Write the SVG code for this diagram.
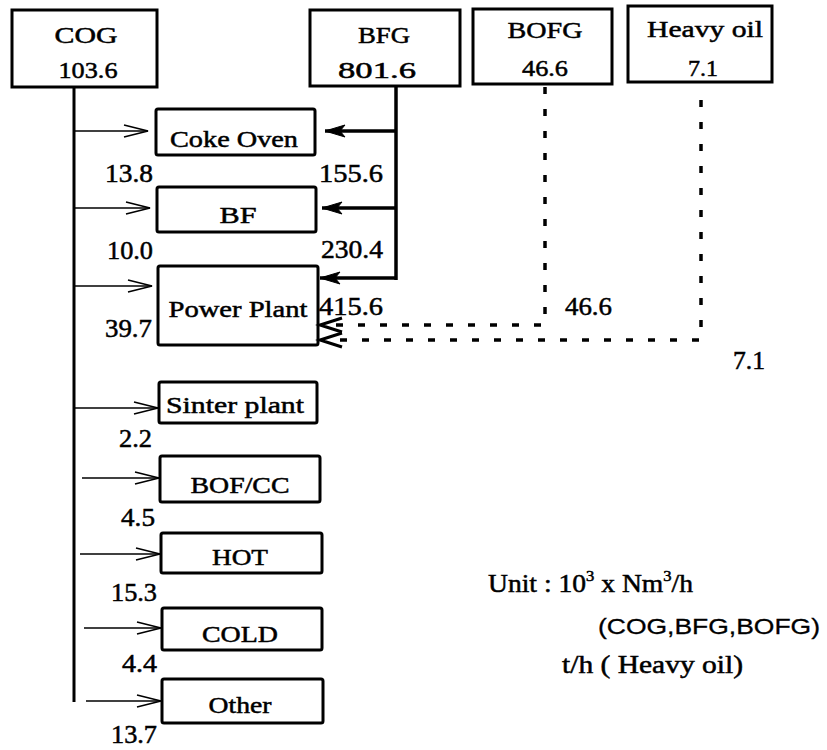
<svg xmlns="http://www.w3.org/2000/svg" width="827" height="750" viewBox="0 0 827 750">
<style>
  .box { fill: #fff; stroke: #000; stroke-width: 3; }
  .t { font-family: "Liberation Serif", "Times New Roman", serif; font-size: 24px; fill: #000; stroke: #000; stroke-width: 0.5; }
  .v { font-family: "Liberation Serif", "Times New Roman", serif; font-size: 25px; fill: #000; stroke: #000; stroke-width: 0.5; }
  .s { font-family: "Liberation Sans", Arial, sans-serif; font-size: 22px; fill: #000; stroke: #000; stroke-width: 0.3; }
  .thin { stroke: #000; stroke-width: 1.6; fill: none; }
  .trunk { stroke: #000; stroke-width: 3; fill: none; }
  .heavy { stroke: #000; stroke-width: 3.5; fill: none; }
  .dot { stroke: #000; stroke-width: 3.5; fill: none; stroke-dasharray: 7 15; }
</style>
<defs>
  <marker id="open" markerUnits="userSpaceOnUse" markerWidth="30" markerHeight="16" refX="26" refY="8" orient="auto">
    <path d="M2,2 L26,8 L2,14" fill="none" stroke="#000" stroke-width="1.6"/>
  </marker>
  <marker id="filled" markerUnits="userSpaceOnUse" markerWidth="24" markerHeight="16" refX="22" refY="8" orient="auto">
    <path d="M2,2 L22,8 L2,14 L7,8 Z" fill="#000" stroke="#000" stroke-width="1"/>
  </marker>
</defs>

<!-- Source nodes -->
<g id="cog">
  <rect class="box" x="12" y="10" width="145" height="77"/>
  <text class="t" x="86" y="43" text-anchor="middle" font-size="25" textLength="63" lengthAdjust="spacingAndGlyphs">COG</text>
  <text class="t" x="88" y="78" text-anchor="middle" font-size="25" textLength="59" lengthAdjust="spacingAndGlyphs">103.6</text>
</g>
<g id="bfg">
  <rect class="box" x="310" y="10" width="150" height="76"/>
  <text class="t" x="384" y="43" text-anchor="middle" font-size="25" textLength="52" lengthAdjust="spacingAndGlyphs">BFG</text>
  <text class="t" x="377" y="78" text-anchor="middle" font-size="25" textLength="78" lengthAdjust="spacingAndGlyphs">801.6</text>
</g>
<g id="bofg">
  <rect class="box" x="473" y="9" width="139" height="75"/>
  <text class="t" x="545" y="38" text-anchor="middle" font-size="25" textLength="75" lengthAdjust="spacingAndGlyphs">BOFG</text>
  <text class="t" x="545" y="76" text-anchor="middle" font-size="25" textLength="46" lengthAdjust="spacingAndGlyphs">46.6</text>
</g>
<g id="heavy-oil">
  <rect class="box" x="628" y="6" width="144" height="76"/>
  <text class="t" x="705" y="37" text-anchor="middle" font-size="25" textLength="116" lengthAdjust="spacingAndGlyphs">Heavy oil</text>
  <text class="t" x="703" y="76" text-anchor="middle" font-size="25" textLength="30" lengthAdjust="spacingAndGlyphs">7.1</text>
</g>

<!-- Consumer nodes -->
<g id="coke-oven">
  <rect class="box" x="156" y="109" width="159" height="46" rx="2"/>
  <text class="t" x="234" y="147" text-anchor="middle" textLength="128" lengthAdjust="spacingAndGlyphs">Coke Oven</text>
</g>
<g id="bf">
  <rect class="box" x="157" y="187" width="159" height="45" rx="2"/>
  <text class="t" x="238" y="223" text-anchor="middle" textLength="37" lengthAdjust="spacingAndGlyphs">BF</text>
</g>
<g id="power-plant">
  <rect class="box" x="158" y="266" width="160" height="79" rx="2"/>
  <text class="t" x="238" y="317" text-anchor="middle" textLength="139" lengthAdjust="spacingAndGlyphs">Power Plant</text>
</g>
<g id="sinter-plant">
  <rect class="box" x="159" y="382" width="158" height="41" rx="2"/>
  <text class="t" x="235" y="413" text-anchor="middle" textLength="138" lengthAdjust="spacingAndGlyphs">Sinter plant</text>
</g>
<g id="bof-cc">
  <rect class="box" x="160" y="456" width="160" height="46" rx="2"/>
  <text class="t" x="240" y="493" text-anchor="middle" textLength="99" lengthAdjust="spacingAndGlyphs">BOF/CC</text>
</g>
<g id="hot">
  <rect class="box" x="161" y="533" width="161" height="40" rx="2"/>
  <text class="t" x="240" y="565" text-anchor="middle" textLength="56" lengthAdjust="spacingAndGlyphs">HOT</text>
</g>
<g id="cold">
  <rect class="box" x="162" y="608" width="160" height="42" rx="2"/>
  <text class="t" x="240" y="642" text-anchor="middle" textLength="76" lengthAdjust="spacingAndGlyphs">COLD</text>
</g>
<g id="other">
  <rect class="box" x="162" y="679" width="161" height="44" rx="2"/>
  <text class="t" x="240" y="713" text-anchor="middle" textLength="63" lengthAdjust="spacingAndGlyphs">Other</text>
</g>

<!-- Connectors -->
<g id="connectors">
  <!-- COG trunk and branches -->
  <line class="trunk" x1="74" y1="87" x2="74" y2="702"/>
  <line class="thin" x1="74" y1="131" x2="148" y2="131" marker-end="url(#open)"/>
  <line class="thin" x1="74" y1="208" x2="150" y2="208" marker-end="url(#open)"/>
  <line class="thin" x1="74" y1="286" x2="152" y2="286" marker-end="url(#open)"/>
  <line class="thin" x1="74" y1="408" x2="158" y2="408" marker-end="url(#open)"/>
  <line class="thin" x1="82" y1="478" x2="159" y2="478" marker-end="url(#open)"/>
  <line class="thin" x1="80" y1="554" x2="160" y2="554" marker-end="url(#open)"/>
  <line class="thin" x1="84" y1="628" x2="161" y2="628" marker-end="url(#open)"/>
  <line class="thin" x1="86" y1="701" x2="161" y2="701" marker-end="url(#open)"/>

  <!-- BFG trunk and branches -->
  <line class="heavy" x1="396" y1="87" x2="396" y2="280"/>
  <line class="heavy" x1="396" y1="131" x2="325" y2="131" marker-end="url(#filled)"/>
  <line class="heavy" x1="396" y1="208" x2="322" y2="208" marker-end="url(#filled)"/>
  <line class="heavy" x1="396" y1="278" x2="320" y2="278" marker-end="url(#filled)"/>

  <!-- BOFG dotted -->
  <polyline class="dot" points="545,87 545,325 322,325"/>
  <path d="M342,318 L320,325 L342,332" fill="none" stroke="#000" stroke-width="3"/>
  <!-- Heavy oil dotted -->
  <polyline class="dot" points="701,100 701,340 322,340"/>
  <path d="M342,333 L320,340 L342,347" fill="none" stroke="#000" stroke-width="3"/>
</g>

<!-- Flow values -->
<g id="values">
  <text class="v" x="105" y="182" textLength="48" lengthAdjust="spacingAndGlyphs">13.8</text>
  <text class="v" x="107" y="259" textLength="46" lengthAdjust="spacingAndGlyphs">10.0</text>
  <text class="v" x="105" y="337" textLength="47" lengthAdjust="spacingAndGlyphs">39.7</text>
  <text class="v" x="119" y="447" textLength="33" lengthAdjust="spacingAndGlyphs">2.2</text>
  <text class="v" x="121" y="526" textLength="34" lengthAdjust="spacingAndGlyphs">4.5</text>
  <text class="v" x="111" y="601" textLength="46" lengthAdjust="spacingAndGlyphs">15.3</text>
  <text class="v" x="122" y="672" textLength="35" lengthAdjust="spacingAndGlyphs">4.4</text>
  <text class="v" x="111" y="743" textLength="46" lengthAdjust="spacingAndGlyphs">13.7</text>
  <text class="v" x="319" y="182" textLength="64" lengthAdjust="spacingAndGlyphs">155.6</text>
  <text class="v" x="321" y="258" textLength="62" lengthAdjust="spacingAndGlyphs">230.4</text>
  <text class="v" x="319" y="315" textLength="64" lengthAdjust="spacingAndGlyphs">415.6</text>
  <text class="v" x="565" y="315" textLength="47" lengthAdjust="spacingAndGlyphs">46.6</text>
  <text class="v" x="733" y="369" textLength="32" lengthAdjust="spacingAndGlyphs">7.1</text>
</g>

<!-- Unit note -->
<g id="unit-note">
  <text class="v" x="488" y="592" textLength="205" lengthAdjust="spacingAndGlyphs">Unit : 10<tspan font-size="15" dy="-11">3</tspan><tspan dy="11"> x Nm</tspan><tspan font-size="15" dy="-11">3</tspan><tspan dy="11">/h</tspan></text>
  <text class="s" x="598" y="634" textLength="222" lengthAdjust="spacingAndGlyphs">(COG,BFG,BOFG)</text>
  <text class="v" x="562" y="673" font-size="24" textLength="181" lengthAdjust="spacingAndGlyphs">t/h  ( Heavy oil)</text>
</g>
</svg>
